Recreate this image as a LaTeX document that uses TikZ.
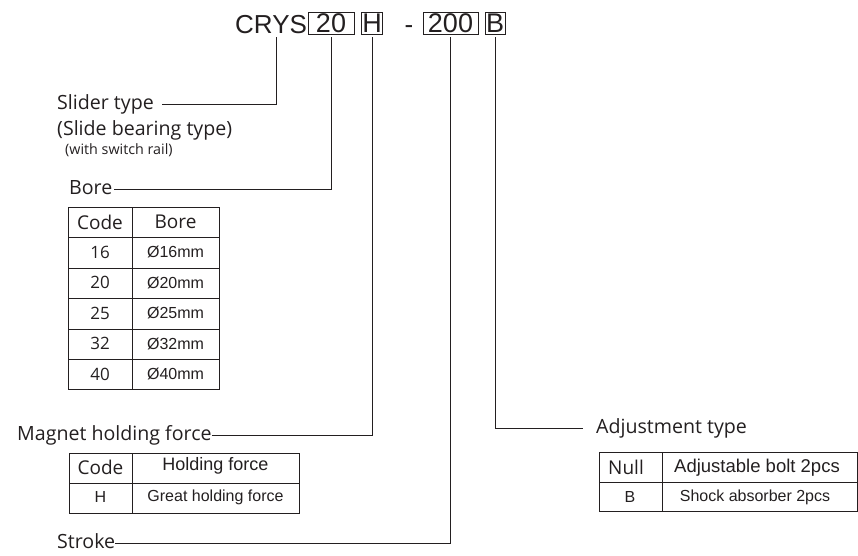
\documentclass[tikz,border=0pt]{standalone}
\usepackage{fontspec}
\setmainfont{Open Sans}
\newfontfamily\arialfont{Liberation Sans}
\usepackage{xcolor}
\usepackage{tikz}

\definecolor{ink}{HTML}{231F20}

\tikzset{
  lbl/.style={inner sep=0pt, anchor=west, font=\fontsize{19.6}{22}\selectfont, text height=14pt, text depth=4pt},
  codebox/.style={draw, line width=0.9pt, inner sep=0pt, minimum height=22pt, font=\arialfont\fontsize{27}{29}\selectfont},
  cell/.style={inner sep=0pt, font=\fontsize{17}{19}\selectfont},
  head/.style={inner sep=0pt, font=\fontsize{19}{21}\selectfont},
  acell/.style={inner sep=0pt, font=\arialfont\fontsize{16}{18}\selectfont},
  grid/.style={line width=1pt},
  lead/.style={line width=0.9pt},
}

\begin{document}
\begin{tikzpicture}[x=1pt,y=-1pt,color=ink]
\useasboundingbox (0,0) rectangle (858,555);
% order code
\node[inner sep=0pt, anchor=base west, font=\arialfont\fontsize{26}{28}\selectfont] (crys) at (235,33) {CRYS};
\node[codebox, minimum width=46pt] (bore20) at (331,23) {20};
\node[codebox, minimum width=21pt] (boxH) at (372,23) {H};
\node[inner sep=0pt, anchor=base, font=\arialfont\fontsize{26}{28}\selectfont] (sep) at (409,33) {-};
\node[codebox, minimum width=55pt] (box200) at (450.5,23) {200};
\node[codebox, minimum width=20pt] (boxB) at (495,23) {B};

% labels
\node[lbl] (slider) at (57,104) {Slider type};
\node[lbl] (bearing) at (57,130) {(Slide bearing type)};
\node[inner sep=0pt, anchor=west, font=\fontsize{14.3}{16}\selectfont] (rail) at (65,150) {(with switch rail)};
\node[lbl] (borelbl) at (69,189) {Bore};
\node[lbl] (magnet) at (17,435) {Magnet holding force};
\node[lbl] (stroke) at (57,543) {Stroke};
\node[lbl] (adjust) at (596,428) {Adjustment type};

% leaders
\draw[lead] ([xshift=5pt,yshift=-4pt]crys.south) |- ([xshift=8pt]slider.east);
\draw[lead] ([yshift=-3pt]bore20.south) |- ([xshift=1pt]borelbl.east);
\draw[lead] ([yshift=-3pt]boxH.south) |- (magnet.east);
\draw[lead] ([yshift=-3pt]box200.south) |- (stroke.east);
\draw[lead] ([yshift=-3pt]boxB.south) |- ([xshift=-13pt]adjust.west);

% bore table
\draw[grid] (68,207) rectangle (219,389);
\draw[grid] (132,207) -- (132,389);
\foreach \y in {237,268,298,329,359}
  \draw[grid] (68,\y) -- (219,\y);
\node[head] (bcode) at (100,222) {Code};
\node[head] (bbore) at (175.5,222) {Bore};
\foreach \c [count=\i] in {16,20,25,32,40} {
  \node[cell] (code\c) at (100,222+30.4*\i) {\c};
  \node[acell] (dia\c) at (175.5,222+30.4*\i) {Ø\c mm};
}

% holding force table
\draw[grid] (69,453) rectangle (299,513);
\draw[grid] (132,453) -- (132,513);
\draw[grid] (69,483) -- (299,483);
\node[head] (hcode) at (100.5,467) {Code};
\node[acell, font=\arialfont\fontsize{18}{20}\selectfont] (hforce) at (215.5,466) {Holding force};
\node[acell] (hH) at (100.5,497) {H};
\node[acell] (hgreat) at (215.5,497) {Great holding force};

% adjustment table
\draw[grid] (599,452) rectangle (857,511);
\draw[grid] (662,452) -- (662,511);
\draw[grid] (599,482) -- (857,482);
\node[head] (anull) at (626,467) {Null};
\node[acell, font=\arialfont\fontsize{18.5}{20}\selectfont] (abolt) at (757,468) {Adjustable bolt 2pcs};
\node[acell] (aB) at (630,497) {B};
\node[acell] (ashock) at (755,497) {Shock absorber 2pcs};
\end{tikzpicture}
\end{document}
